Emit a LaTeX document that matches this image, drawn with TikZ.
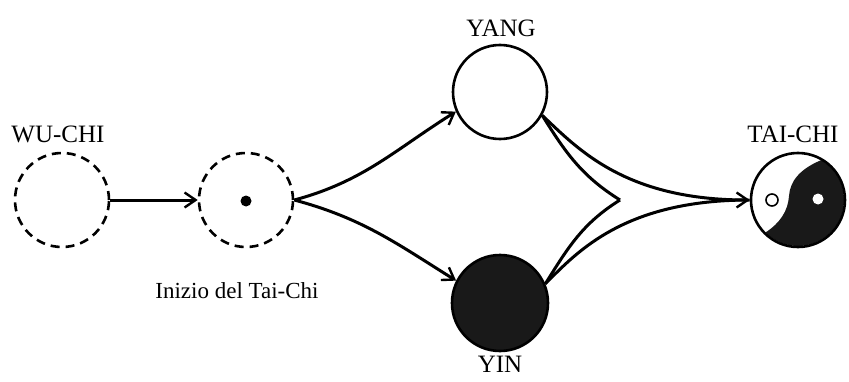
\documentclass[tikz,border=0pt]{standalone}
\usepackage{fontspec}
\setmainfont{Liberation Serif}
\usetikzlibrary{arrows.meta}
\begin{document}
\begin{tikzpicture}[x=1pt,y=1pt,
  ring/.style={circle,draw,line width=2.6pt,minimum size=94pt,inner sep=0pt},
  dashring/.style={ring,dash pattern=on 9pt off 6pt},
  lbl/.style={font=\fontsize{25}{25}\selectfont,anchor=base,inner sep=0pt},
  conn/.style={line width=3pt},
  tip/.style={conn,-{Straight Barb[length=11pt,width=15pt,line width=2.4pt]}}
]
\useasboundingbox (0,0) rectangle (849,381);

% states
\node[dashring] (wu) at (62,181) {};
\node[dashring] (ini) at (246,181) {};
\node[circle,fill,inner sep=0pt,minimum size=11pt] (seed) at (246,180) {};
\node[ring] (yang) at (500,289) {};
\node[ring,fill=black!90,minimum size=96pt] (yin) at (500,78) {};

% tai-chi symbol: dark half first, then the outline on top
\fill[black!90] (821,220.8) .. controls (800,212) and (790,200) .. (789,185)
  .. controls (788,170) and (780,158) .. (765.5,148.5)
  arc[start angle=225,end angle=420,radius=46] -- cycle;
\node[ring] (tc) at (798,181) {};
\node[circle,draw,fill=white,line width=1.6pt,minimum size=12pt,inner sep=0pt] (hole) at (772,181) {};
\node[circle,fill=white,minimum size=11pt,inner sep=0pt] (eye) at (818,182) {};

% labels
\node[lbl] (wulbl) at (58,238) {WU-CHI};
\node[lbl] (yanglbl) at (501,344) {YANG};
\node[lbl] (yinlbl) at (500,9) {YIN};
\node[lbl] (tclbl) at (793,238) {TAI-CHI};
\node[lbl,font=\fontsize{23}{23}\selectfont] (inilbl) at (237,83) {Inizio del Tai-Chi};

% connectors
\coordinate (cusp) at (620,181);
\draw[tip] (wu.east) -- (ini.west);
\draw[tip] (ini.east) to[out=15,in=212] (yang.204);
\draw[tip] (ini.east) to[out=-15,in=148] (yin.153);
\draw[conn] (yang.-29) to[out=-58,in=148] (cusp);
\draw[conn] (yin.23) to[out=58,in=212] (cusp);
\draw[tip] (yang.-29) .. controls (578,232) and (625,181) .. (tc.west);
\draw[conn] (yin.23) .. controls (578,130) and (625,181) .. (tc.west);
\end{tikzpicture}
\end{document}
